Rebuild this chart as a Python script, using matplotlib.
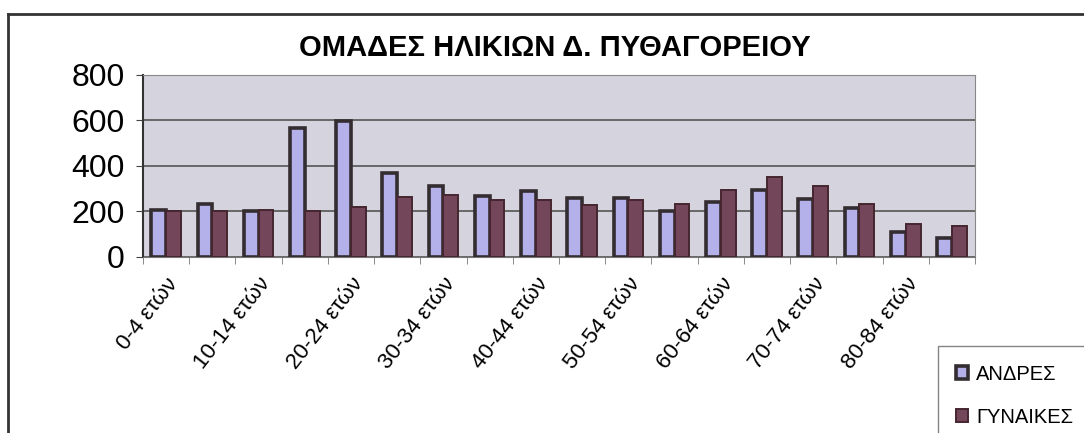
import numpy as np
import matplotlib.pyplot as plt
from matplotlib.lines import Line2D

# age groups and population per sex
groups = ['0-4', '5-9', '10-14', '15-19', '20-24', '25-29', '30-34', '35-39', '40-44',
          '45-49', '50-54', '55-59', '60-64', '65-69', '70-74', '75-79', '80-84', '85+']
labels = [g + ' ετών' for g in groups]
men = [205, 232, 203, 568, 598, 368, 312, 268, 290, 261, 261, 203, 243, 295, 255, 217, 108, 85]
women = [200, 200, 205, 200, 221, 265, 272, 250, 250, 229, 250, 232, 295, 350, 312, 233, 144, 138]

plt.rcParams['font.family'] = ['Liberation Sans', 'DejaVu Sans']

fig = plt.figure(figsize=(10.84, 4.33), dpi=100)
ax = fig.add_axes([0.1319, 0.4065, 0.7676, 0.4203])
ax.set_facecolor('#d5d3de')

x = np.arange(len(groups))
w = 0.32
ax.bar(x - 0.16, men, w, color='#b3b0ea', edgecolor='#332c30', linewidth=2.6,
       label='ΑΝΔΡΕΣ', zorder=3)
ax.bar(x + 0.16, women, w, color='#74465a', edgecolor='#45262f', linewidth=1.4,
       label='ΓΥΝΑΙΚΕΣ', zorder=3)

ax.set_xlim(-0.5, len(groups) - 0.5)
ax.set_ylim(0, 800)
ax.set_yticks([0, 200, 400, 600, 800])
ax.yaxis.grid(True, color='#555555', linewidth=1.2, zorder=0)
ax.tick_params(axis='y', labelsize=23, length=5, color='#444444', pad=8)

ax.set_xticks(x[::2])
ax.set_xticklabels(labels[::2], rotation=52, ha='right', va='top',
                   rotation_mode='anchor', fontsize=16)
ax.tick_params(axis='x', length=0, pad=12)
ax.set_xticks(np.arange(-0.5, len(groups)), minor=True)
ax.tick_params(axis='x', which='minor', length=5, color='#777777')

for s in ['top', 'right']:
    ax.spines[s].set_color('#888888')
ax.spines['left'].set_color('#333333')
ax.spines['left'].set_linewidth(1.5)
ax.spines['bottom'].set_color('#777777')

fig.text(0.512, 0.89, 'ΟΜΑΔΕΣ ΗΛΙΚΙΩΝ Δ. ΠΥΘΑΓΟΡΕΙΟΥ', ha='center', va='center',
         fontsize=21, fontweight='bold')

leg = fig.legend(loc='upper left', bbox_to_anchor=(0.865, 0.2), fontsize=14.5,
                 frameon=True, fancybox=False, edgecolor='#666666',
                 handlelength=0.6, handleheight=0.6, handletextpad=0.4,
                 labelspacing=1.2, borderpad=0.9, borderaxespad=0)
leg.get_frame().set_linewidth(1.0)

# outer chart border (scanned page, cut at right and bottom)
fig.add_artist(Line2D([0.0075, 0.0075], [0.0, 0.968], color='#333333', linewidth=2))
fig.add_artist(Line2D([0.0075, 1.0], [0.968, 0.968], color='#333333', linewidth=2))

fig.savefig('out.png', dpi=100)
